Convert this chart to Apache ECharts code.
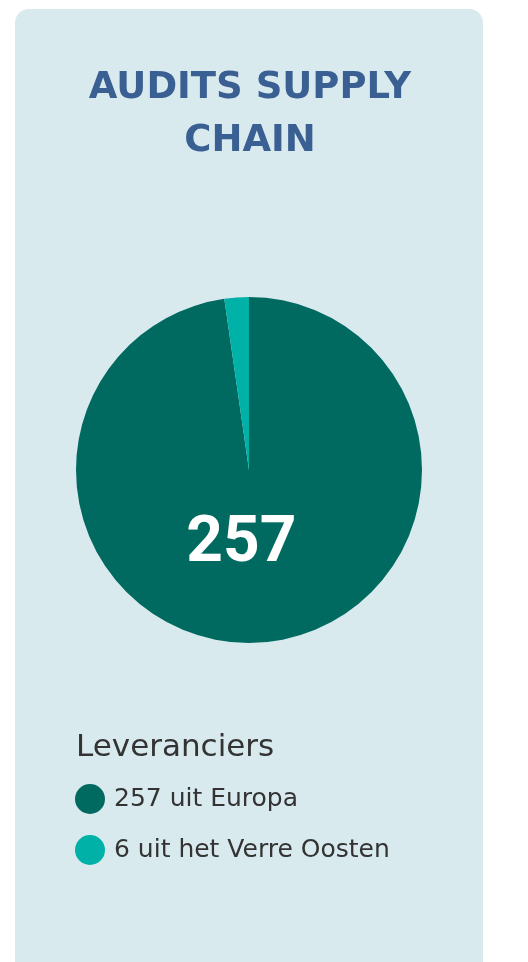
<!DOCTYPE html>
<html>
<head>
<meta charset="utf-8">
<script src="https://cdn.jsdelivr.net/npm/echarts@6/dist/echarts.min.js"></script>
<style>
  html, body { margin: 0; padding: 0; background: #fff; }
  #chart { width: 528px; height: 962px; }
</style>
</head>
<body>
<div id="chart"></div>
<script>
// data
var regions = ['257 uit Europa', '6 uit het Verre Oosten'];
var supplierCounts = [257, 6];
var sliceColors = ['#006a61', '#00b1a8'];

var chart = echarts.init(document.getElementById('chart'));

chart.setOption({
  backgroundColor: '#ffffff',
  animation: false,
  graphic: [{
    type: 'rect',
    z: -10,
    shape: { x: 15, y: 9, width: 468, height: 970, r: 14 },
    style: { fill: '#d9eaef' }
  }],
  title: [{
    text: 'AUDITS SUPPLY\nCHAIN',
    left: 245,
    top: 57,
    textAlign: 'center',
    textStyle: {
      fontFamily: 'DejaVu Sans',
      fontWeight: 'bold',
      fontSize: 37,
      lineHeight: 53,
      color: '#3a5f92'
    }
  }, {
    text: 'Leveranciers',
    left: 71,
    top: 727,
    textStyle: {
      fontFamily: 'DejaVu Sans',
      fontWeight: 'normal',
      fontSize: 31,
      color: '#333333'
    }
  }],
  legend: {
    orient: 'vertical',
    left: 70,
    top: 779,
    icon: 'circle',
    itemWidth: 30,
    itemHeight: 30,
    itemGap: 21,
    selectedMode: false,
    data: regions,
    textStyle: {
      fontFamily: 'DejaVu Sans',
      fontSize: 25,
      color: '#333333',
      padding: [0, 0, 0, 4]
    }
  },
  series: [{
    type: 'pie',
    center: [249, 470],
    radius: 173,
    startAngle: 90,
    clockwise: true,
    silent: true,
    itemStyle: { borderWidth: 0 },
    labelLine: { show: false },
    data: regions.map(function (name, i) {
      return {
        name: name,
        value: supplierCounts[i],
        itemStyle: { color: sliceColors[i] },
        label: {
          show: i === 0,
          position: 'inside',
          formatter: '{c}',
          offset: [-14, -14],
          fontFamily: 'Roboto',
          fontWeight: 'bold',
          fontSize: 64,
          color: '#ffffff'
        }
      };
    })
  }]
});
</script>
</body>
</html>
